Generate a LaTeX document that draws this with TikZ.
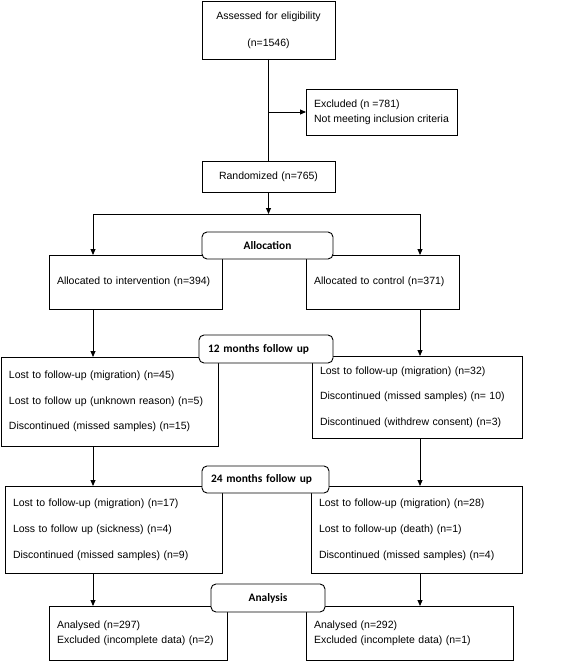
\documentclass[tikz,border=0pt]{standalone}
\usepackage{fontspec}
\setmainfont{Liberation Sans}
\newfontfamily\carl{Carlito}
\usetikzlibrary{arrows.meta}
\begin{document}
\begin{tikzpicture}[x=1pt,y=-1pt,
  box/.style={draw, line width=0.9pt, fill=white, inner xsep=8pt, inner ysep=0pt,
    anchor=north west, outer sep=0pt, align=left},
  lab/.style={draw, line width=0.9pt, fill=white, rounded corners=5pt, anchor=north west,
    inner xsep=9pt, inner ysep=0pt, outer sep=0pt, font=\carl\bfseries\fontsize{11.4}{13}\selectfont},
  arr/.style={line width=0.9pt, -{Triangle[length=6pt,width=5pt]}},
  ln/.style={line width=0.9pt}]
\useasboundingbox (0,0) rectangle (567,661);
\tikzset{every node/.append style={font=\fontsize{10.5}{12.6}\selectfont}}

% boxes
\node[box, align=center, text width=117pt, minimum height=58pt, font=\fontsize{10.5}{27}\selectfont] (assess) at (202,1) {Assessed for eligibility\\(n=1546)};
\node[box, inner xsep=0pt, minimum width=151pt, minimum height=46pt, font=\fontsize{10.5}{15}\selectfont] (excl) at (306,89) {Excluded (n =781)\\Not meeting inclusion criteria};
\node[box, align=center, text width=117pt, minimum height=31pt] (rand) at (202,161) {Randomized (n=765)};
\node[box, text width=157pt, minimum height=54pt] (alloc1) at (49,255) {Allocated to intervention (n=394)};
\node[box, text width=137pt, minimum height=54pt] (alloc2) at (306,255) {Allocated to control (n=371)};
\node[box, text width=201pt, minimum height=89pt, font=\fontsize{10.5}{25.5}\selectfont] (f12L) at (1,357) {Lost to follow-up (migration) (n=45)\\Lost to follow up (unknown reason) (n=5)\\Discontinued (missed samples) (n=15)};
\node[box, text width=194pt, minimum height=82pt, font=\fontsize{10.5}{25.5}\selectfont] (f12R) at (312,356) {Lost to follow-up (migration) (n=32)\\Discontinued (missed samples) (n= 10)\\Discontinued (withdrew consent) (n=3)};
\node[box, text width=201pt, minimum height=87pt, font=\fontsize{10.5}{26}\selectfont] (f24L) at (5,486) {Lost to follow-up (migration) (n=17)\\Loss to follow up (sickness) (n=4)\\Discontinued (missed samples) (n=9)};
\node[box, text width=195pt, minimum height=87pt, font=\fontsize{10.5}{26}\selectfont] (f24R) at (311,486) {Lost to follow-up (migration) (n=28)\\Lost to follow-up (death) (n=1)\\Discontinued (missed samples) (n=4)};
\node[box, text width=162pt, minimum height=54pt, font=\fontsize{10.5}{15}\selectfont] (anL) at (49,606) {Analysed (n=297)\\Excluded (incomplete data) (n=2)};
\node[box, text width=191pt, minimum height=54pt, font=\fontsize{10.5}{15}\selectfont] (anR) at (306,606) {Analysed (n=292)\\Excluded (incomplete data) (n=1)};

% connector coordinates
\coordinate (sl) at (93,214);
\coordinate (sr) at (420,214);

% connectors
\draw[ln] (assess.south) -- (rand.north);
\draw[arr] (assess.south |- excl.west) -- (excl.west);
\draw[arr] (rand.south) -- (rand.south |- sl);
\draw[ln] (sl) -- (sr);
\draw[arr] (sl) -- (sl |- alloc1.north);
\draw[arr] (sr) -- (sr |- alloc2.north);
\draw[arr] (alloc1.south -| sl) -- (f12L.north -| sl);
\draw[arr] (alloc2.south -| sr) -- (f12R.north -| sr);
\draw[arr] (f12L.south -| sl) -- (f24L.north -| sl);
\draw[arr] (f12R.south -| sr) -- (f24R.north -| sr);
\draw[arr] (f24L.south -| sl) -- (anL.north -| sl);
\draw[arr] (f24R.south -| sr) -- (anR.north -| sr);

% rounded stage labels
\node[lab, align=center, text width=113pt, minimum height=27pt] (lalloc) at (202,232) {Allocation};
\node[lab, align=left, text width=116pt, minimum height=28pt] (l12) at (199,335) {12 months follow up};
\node[lab, align=left, text width=109pt, minimum height=27pt] (l24) at (202,466) {24 months follow up};
\node[lab, align=center, text width=96pt, minimum height=28pt] (lan) at (211,584) {Analysis};
\end{tikzpicture}
\end{document}
